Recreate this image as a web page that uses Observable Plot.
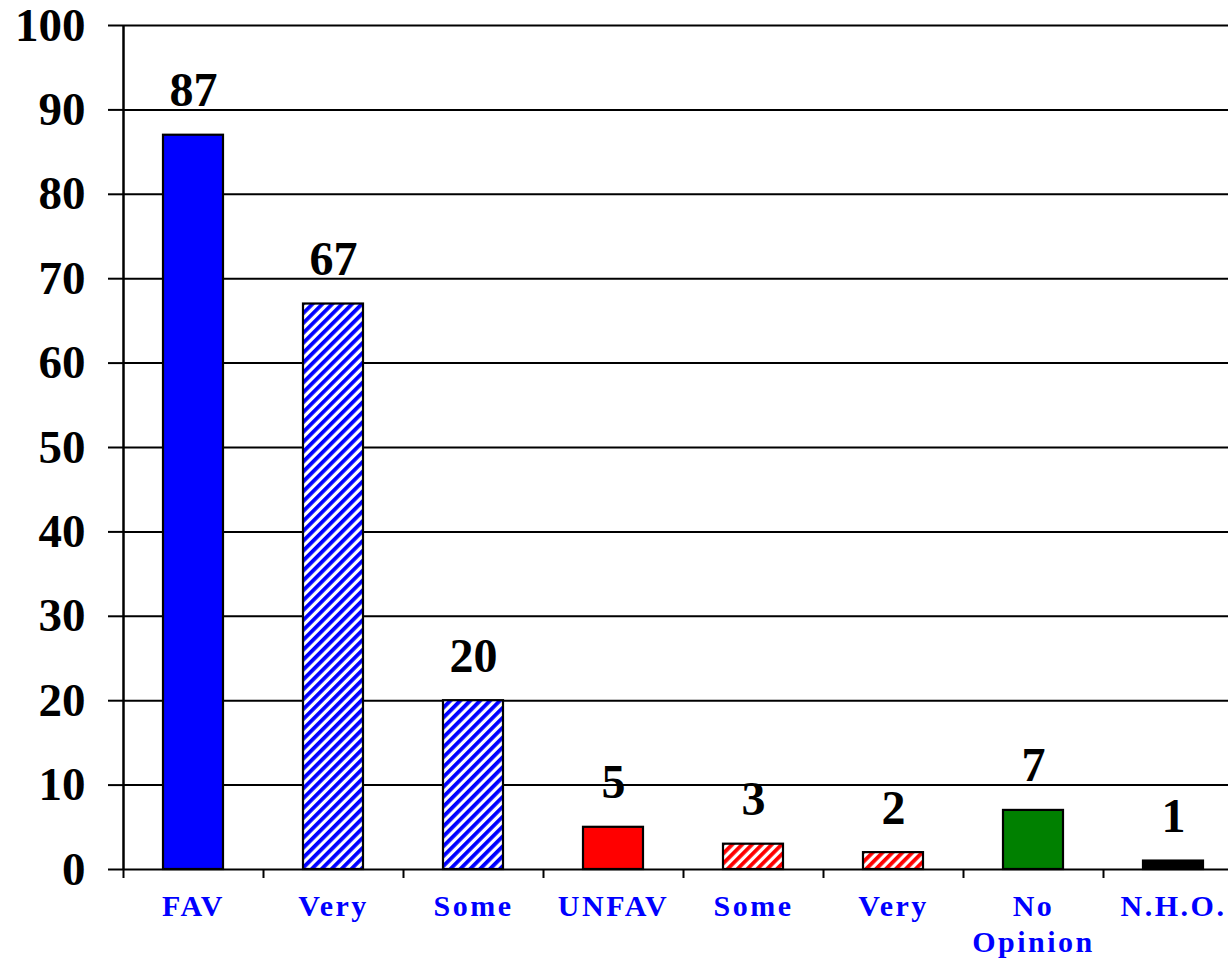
<!DOCTYPE html>
<html>
<head>
<meta charset="utf-8">
<script src="https://cdn.jsdelivr.net/npm/d3@7"></script>
<script src="https://cdn.jsdelivr.net/npm/@observablehq/plot@0.6"></script>
<style>
  html, body { margin: 0; padding: 0; background: white; }
  #chart { width: 1228px; height: 962px; }
</style>
</head>
<body>
<div id="chart"></div>
<script>
// ---- data ----
const keys = ["FAV", "Very (fav)", "Some (fav)", "UNFAV", "Some (unfav)", "Very (unfav)", "No Opinion", "N.H.O."];
const labels = ["FAV", "Very", "Some", "UNFAV", "Some", "Very", "No\nOpinion", "N.H.O."];
const values = [87, 67, 20, 5, 3, 2, 7, 1];
const groups = ["fav", "favHatch", "favHatch", "unfav", "unfavHatch", "unfavHatch", "none", "nho"];
const yTicks = [0, 10, 20, 30, 40, 50, 60, 70, 80, 90, 100];

// ---- styles ----
const fillByGroup = {
  fav: "#0000FF",
  favHatch: "url(#hatchBlue)",
  unfav: "#FF0000",
  unfavHatch: "url(#hatchRed)",
  none: "#008000",
  nho: "#000000"
};
const serif = "'Liberation Serif', 'Times New Roman', serif";

const data = keys.map((k, i) => ({key: k, label: labels[i], value: values[i], group: groups[i]}));
const labelOf = new Map(keys.map((k, i) => [k, labels[i]]));

const W = 1228, H = 962;
const xRange = [123, 1243];
const step = (xRange[1] - xRange[0]) / keys.length;

const chart = Plot.plot({
  width: W,
  height: H,
  marginLeft: 123,
  marginRight: 0,
  marginTop: 25,
  marginBottom: 93,
  style: {background: "white", fontFamily: serif, color: "black"},
  x: {type: "band", domain: keys, range: xRange, padding: 0, label: null},
  y: {domain: [0, 100], label: null},
  color: {type: "identity"},
  marks: [
    Plot.gridY(yTicks, {stroke: "black", strokeOpacity: 1, strokeWidth: 2}),
    Plot.barY(data, {
      x: "key", y: "value",
      fill: d => fillByGroup[d.group],
      stroke: "black", strokeWidth: 2.2,
      insetLeft: 40, insetRight: 40
    }),
    Plot.text(data, {
      x: "key", y: "value", text: d => String(d.value),
      lineAnchor: "bottom", dy: -29,
      fontSize: 48, fontWeight: "bold", fontFamily: serif, fill: "black"
    }),
    // left axis line
    Plot.ruleX([keys[0]], {x: d => d, dx: -step / 2, y1: 0, y2: 100, stroke: "black", strokeWidth: 2.5}),
    // boundary ticks on the x axis
    Plot.axisX({tickSize: 9, dx: -step / 2, tickFormat: () => "", label: null, stroke: "black", strokeWidth: 2}),
    // category labels
    Plot.axisX({
      tickSize: 0, tickPadding: 21, label: null,
      tickFormat: k => labelOf.get(k),
      fill: "#0000FF", fontSize: 30, fontWeight: "bold", fontFamily: serif,
      lineHeight: 1.2
    }),
    Plot.axisY({
      ticks: yTicks, tickSize: 15, tickPadding: 23, label: null,
      fontSize: 47, fontWeight: "bold", fontFamily: serif, fill: "black",
      stroke: "black", strokeWidth: 2
    })
  ]
});

// hatch patterns
const svg = d3.select(chart.tagName === "svg" ? chart : chart.querySelector("svg"));
const defs = svg.insert("defs", ":first-child");
function hatch(id, color) {
  const p = defs.append("pattern")
    .attr("id", id)
    .attr("patternUnits", "userSpaceOnUse")
    .attr("width", 7).attr("height", 7)
    .attr("patternTransform", "rotate(45)");
  p.append("rect").attr("width", 7).attr("height", 7).attr("fill", "white");
  p.append("rect").attr("width", 3.8).attr("height", 7).attr("fill", color);
}
hatch("hatchBlue", "#0000FF");
hatch("hatchRed", "#FF0000");

// letter spacing on category labels
svg.selectAll('g[aria-label="x-axis tick label"] text').style("letter-spacing", "2.5px");

document.getElementById("chart").appendChild(chart);
</script>
</body>
</html>
